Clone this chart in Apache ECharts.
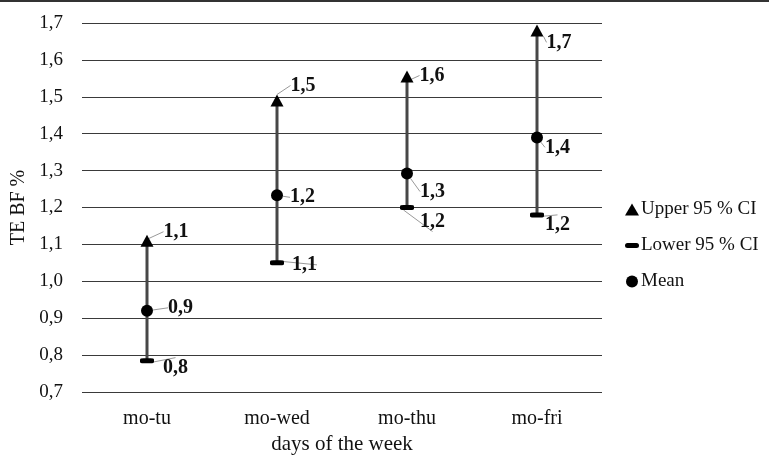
<!DOCTYPE html>
<html>
<head>
<meta charset="utf-8">
<script src="https://cdn.jsdelivr.net/npm/echarts@6/dist/echarts.min.js"></script>
<style>html,body{margin:0;padding:0;background:#fff;}#c{width:769px;height:459px;}</style>
</head>
<body>
<div id="c"></div>
<script>
var categories = ['mo-tu', 'mo-wed', 'mo-thu', 'mo-fri'];
var upperCI = [1.11, 1.49, 1.555, 1.68];
var lowerCI = [0.785, 1.05, 1.2, 1.18];
var meanVals = [0.92, 1.233, 1.292, 1.39];
var yTicks = ['0,7','0,8','0,9','1,0','1,1','1,2','1,3','1,4','1,5','1,6','1,7'];

// label offsets (layout only)
var upperOff = [[6, -9], [3, -15], [2, -1], [-1, 12]];
var meanOff = [[11, -3], [3, 2], [3, 18], [-2, 10]];
var lowerOff = [[5, 7], [4, 2], [2, 14], [-3, 10]];

var FONT = '"Liberation Serif","Times New Roman",serif';
function fmt(v) { return (Math.round(v * 10) / 10).toFixed(1).replace('.', ','); }
function labelCfg() {
  return {
    show: true, position: 'right', distance: 4,
    formatter: function (p) { return fmt(p.value); },
    fontFamily: FONT, fontSize: 20, fontWeight: 'bold', color: '#111'
  };
}
function layoutFn(offs) {
  return function (p) { var o = offs[p.dataIndex]; return { dx: o[0], dy: o[1] }; };
}
var labelLine = { show: true, lineStyle: { color: '#9a9a9a', width: 1 } };
var dashIcon = 'path://M2.5,0 L11.5,0 A2.5,2.5 0 0 1 11.5,5 L2.5,5 A2.5,2.5 0 0 1 2.5,0 Z';

var chart = echarts.init(document.getElementById('c'), null, { renderer: 'canvas' });
chart.setOption({
  animation: false,
  backgroundColor: '#fff',
  textStyle: { fontFamily: FONT },
  graphic: [{ type: 'line', shape: { x1: 0, y1: 1, x2: 769, y2: 1 }, style: { stroke: '#333', lineWidth: 2 } }],
  grid: { left: 82, right: 167, top: 23, bottom: 67, containLabel: false, outerBoundsMode: 'none' },
  legend: {
    orient: 'vertical', left: 620, top: 195, itemGap: 17, itemWidth: 14, itemHeight: 12,
    symbolKeepAspect: true,
    textStyle: { fontFamily: FONT, fontSize: 19, color: '#111', padding: [0, 0, 0, -3] },
    data: [
      { name: 'Upper 95 % CI', icon: 'triangle' },
      { name: 'Lower 95 % CI', icon: dashIcon },
      { name: 'Mean', icon: 'circle' }
    ]
  },
  xAxis: {
    type: 'category', data: categories, boundaryGap: true,
    axisLine: { show: false }, axisTick: { show: false },
    axisLabel: { fontFamily: FONT, fontSize: 20, color: '#111', margin: 17 },
    name: 'days of the week', nameLocation: 'middle', nameGap: 41,
    nameTextStyle: { fontFamily: FONT, fontSize: 21, color: '#111' }
  },
  yAxis: {
    type: 'value', min: 0.7, max: 1.7, interval: 0.1,
    axisLine: { show: false }, axisTick: { show: false },
    splitLine: { lineStyle: { color: '#3a3a3a', width: 1.2 } },
    axisLabel: {
      fontFamily: FONT, fontSize: 19, color: '#111', margin: 19,
      formatter: function (v) { return yTicks[Math.round((v - 0.7) * 10)]; }
    },
    name: 'TE BF %', nameLocation: 'middle', nameGap: 49, nameRotate: 90,
    nameTextStyle: { fontFamily: FONT, fontSize: 20, color: '#111' }
  },
  series: [
    {
      type: 'custom', z: 1, silent: true,
      data: categories.map(function (c, i) { return [i, lowerCI[i], upperCI[i]]; }),
      renderItem: function (params, api) {
        var a = api.coord([api.value(0), api.value(1)]);
        var b = api.coord([api.value(0), api.value(2)]);
        return { type: 'line', shape: { x1: a[0], y1: a[1], x2: b[0], y2: b[1] },
                 style: { stroke: '#474747', lineWidth: 3 } };
      }
    },
    {
      name: 'Upper 95 % CI', type: 'scatter', z: 3, data: upperCI,
      symbol: 'triangle', symbolSize: [13, 12],
      itemStyle: { color: '#000', opacity: 1 },
      label: labelCfg(), labelLayout: layoutFn(upperOff), labelLine: labelLine
    },
    {
      name: 'Lower 95 % CI', type: 'scatter', z: 3, data: lowerCI,
      symbol: 'roundRect', symbolSize: [14, 5],
      itemStyle: { color: '#000', opacity: 1 },
      label: labelCfg(), labelLayout: layoutFn(lowerOff), labelLine: labelLine
    },
    {
      name: 'Mean', type: 'scatter', z: 3, data: meanVals,
      symbol: 'circle', symbolSize: 12,
      itemStyle: { color: '#000', opacity: 1 },
      label: labelCfg(), labelLayout: layoutFn(meanOff), labelLine: labelLine
    }
  ]
});
</script>
</body>
</html>
